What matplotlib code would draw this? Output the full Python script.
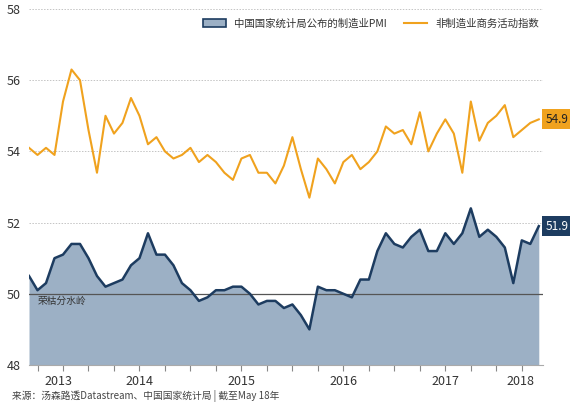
import matplotlib
matplotlib.use('Agg')
import matplotlib.pyplot as plt
from matplotlib.patches import Patch
from matplotlib.lines import Line2D
import numpy as np

plt.rcParams['font.family'] = ['Noto Sans CJK SC', 'DejaVu Sans']

# monthly data, May 2013 - May 2018
mfg_pmi = [50.5, 50.1, 50.3, 51.0, 51.1, 51.4, 51.4, 51.0,
           50.5, 50.2, 50.3, 50.4, 50.8, 51.0, 51.7, 51.1, 51.1, 50.8, 50.3, 50.1,
           49.8, 49.9, 50.1, 50.1, 50.2, 50.2, 50.0, 49.7, 49.8, 49.8, 49.6, 49.7,
           49.4, 49.0, 50.2, 50.1, 50.1, 50.0, 49.9, 50.4, 50.4, 51.2, 51.7, 51.4,
           51.3, 51.6, 51.8, 51.2, 51.2, 51.7, 51.4, 51.7, 52.4, 51.6, 51.8, 51.6,
           51.3, 50.3, 51.5, 51.4, 51.9]
non_mfg = [54.1, 53.9, 54.1, 53.9, 55.4, 56.3, 56.0, 54.6,
           53.4, 55.0, 54.5, 54.8, 55.5, 55.0, 54.2, 54.4, 54.0, 53.8, 53.9, 54.1,
           53.7, 53.9, 53.7, 53.4, 53.2, 53.8, 53.9, 53.4, 53.4, 53.1, 53.6, 54.4,
           53.5, 52.7, 53.8, 53.5, 53.1, 53.7, 53.9, 53.5, 53.7, 54.0, 54.7, 54.5,
           54.6, 54.2, 55.1, 54.0, 54.5, 54.9, 54.5, 53.4, 55.4, 54.3, 54.8, 55.0,
           55.3, 54.4, 54.6, 54.8, 54.9]
year_labels = ['2013', '2014', '2015', '2016', '2017', '2018']
year_pos = [3.5, 13, 25, 37, 49, 57.8]

navy = '#1d3c60'
fill_col = '#9cb0c5'
orange = '#f0a21e'

x = np.arange(len(mfg_pmi))

fig = plt.figure(figsize=(5.7, 4.05), dpi=100)
ax = fig.add_axes([0.0509, 0.0988, 0.9018, 0.879])

ax.fill_between(x, 48, mfg_pmi, color=fill_col, lw=0, zorder=1)
ax.plot(x, mfg_pmi, color=navy, lw=1.8, zorder=3)
ax.plot(x, non_mfg, color=orange, lw=1.5, zorder=3)

for v in [52, 54, 56, 58]:
    ax.axhline(v, color='#c4c4c4', lw=0.7, ls=(0, (1.5, 1.5)), zorder=0)
ax.axhline(50, color='#555555', lw=0.9, zorder=2)

ax.set_xlim(0, 60.5)
ax.set_ylim(48, 58)
ax.set_yticks([48, 50, 52, 54, 56, 58])
ax.set_xticks(np.arange(1, 61, 3))
ax.set_xticklabels([])
ax.tick_params(axis='x', length=4, color='#888888', direction='out')
ax.tick_params(axis='y', length=0, labelsize=9, colors='#333333', pad=6)
for s in ['top', 'right', 'left']:
    ax.spines[s].set_visible(False)
ax.spines['bottom'].set_color('#aaaaaa')

for p, lab in zip(year_pos, year_labels):
    ax.text(p, 47.55, lab, ha='center', va='center', fontsize=9, color='#333333')

ax.text(1, 49.8, '荣枯分水岭', fontsize=7, color='#333333', va='center')

ax.annotate(f'{non_mfg[-1]}', xy=(x[-1], non_mfg[-1]), xytext=(5, 0),
            textcoords='offset points', va='center', ha='left', fontsize=8.5,
            color='#222222', bbox=dict(boxstyle='square,pad=0.3', fc=orange, ec='none'),
            annotation_clip=False)
ax.annotate(f'{mfg_pmi[-1]}', xy=(x[-1], mfg_pmi[-1]), xytext=(5, 0),
            textcoords='offset points', va='center', ha='left', fontsize=8.5,
            color='white', bbox=dict(boxstyle='square,pad=0.3', fc=navy, ec='none'),
            annotation_clip=False)

handles = [Patch(facecolor=fill_col, edgecolor=navy, linewidth=1.2),
           Line2D([0], [0], color=orange, lw=1.5)]
ax.legend(handles, ['中国国家统计局公布的制造业PMI', '非制造业商务活动指数'],
          loc='upper right', bbox_to_anchor=(1.01, 1.0), ncol=2, frameon=False,
          fontsize=7.5, handlelength=2.2, handleheight=0.8, columnspacing=1.6,
          labelcolor='#333333')

fig.text(0.021, 0.022, '来源：汤森路透Datastream、中国国家统计局 | 截至May 18年',
         fontsize=7, color='#444444', va='center')

fig.savefig('out.png', dpi=100)
